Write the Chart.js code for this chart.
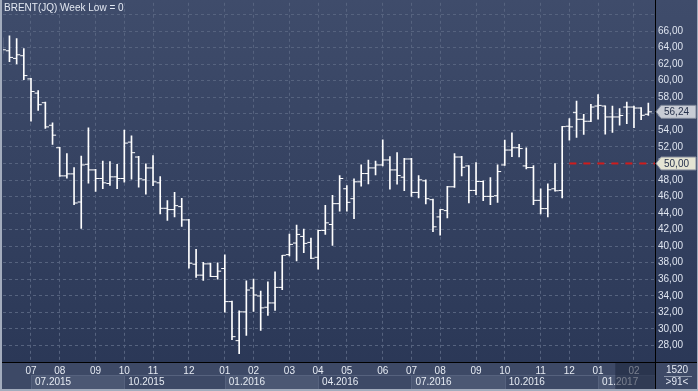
<!DOCTYPE html>
<html>
<head>
<meta charset="utf-8">
<script src="https://cdn.jsdelivr.net/npm/chart.js@4.4.0/dist/chart.umd.min.js"></script>
<style>
html, body { margin: 0; padding: 0; background: #2f3c5a; }
canvas { display: block; }
</style>
</head>
<body>
<canvas id="brent" width="698" height="391"></canvas>
<script>
// weekly bars, index 0 = last week of June 2015
const openP = [64.30, 63.62, 62.70, 63.02, 60.22, 58.50, 57.34, 54.62, 51.90, 48.50,
    48.74, 45.34, 49.90, 49.22, 48.18, 47.58, 48.38, 48.18, 52.58, 50.78,
    48.02, 49.46, 47.66, 44.58, 44.42, 44.78, 43.18, 37.82, 36.50, 37.86,
    36.34, 37.30, 33.30, 28.58, 32.06, 34.94, 33.98, 32.62, 33.14, 35.02,
    38.98, 40.38, 41.18, 40.46, 38.66, 41.90, 42.62, 45.14, 46.94, 45.74,
    47.78, 48.78, 49.46, 49.82, 50.42, 49.22, 48.34, 50.54, 46.50, 47.90,
    45.62, 43.54, 44.30, 47.18, 50.78, 49.70, 46.74, 47.82, 46.02, 46.10,
    49.82, 51.62, 51.90, 49.70, 49.50, 45.54, 44.54, 46.94, 46.74, 54.50,
    56.18, 55.34, 55.10, 56.94, 56.94, 55.62, 55.62, 56.82, 56.82, 56.70, 55.94];
const highP = [65.20, 65.42, 65.10, 63.90, 60.30, 58.82, 57.42, 54.90, 51.95, 51.18,
    49.50, 50.90, 54.30, 49.30, 50.30, 50.22, 49.90, 54.02, 53.34, 50.85,
    49.94, 50.94, 48.42, 45.50, 46.50, 45.78, 43.25, 39.62, 38.06, 37.95,
    37.98, 38.94, 33.35, 32.18, 35.82, 36.02, 34.58, 35.70, 36.90, 38.90,
    41.46, 42.54, 42.06, 40.98, 41.94, 44.94, 46.14, 48.54, 47.34, 48.14,
    49.82, 50.42, 50.30, 52.86, 50.82, 51.30, 50.62, 50.62, 48.54, 48.02,
    45.70, 44.45, 47.22, 51.18, 50.85, 49.75, 50.10, 47.90, 48.30, 49.82,
    52.82, 53.70, 52.30, 51.90, 49.74, 46.94, 47.54, 49.98, 54.50, 55.42,
    57.54, 55.94, 57.14, 58.34, 56.98, 56.94, 56.62, 57.42, 56.94, 56.75, 57.30];
const lowP = [63.30, 62.30, 62.02, 60.14, 55.10, 56.42, 54.22, 52.30, 48.42, 48.22,
    45.02, 42.14, 47.62, 46.62, 46.94, 47.34, 46.94, 47.74, 48.10, 47.14,
    46.30, 47.30, 43.90, 43.10, 43.54, 42.38, 37.34, 36.22, 35.86, 36.30,
    36.02, 32.02, 28.70, 27.02, 29.22, 32.10, 29.82, 31.62, 32.22, 34.74,
    38.82, 38.22, 39.22, 38.50, 37.22, 41.42, 40.10, 44.22, 44.22, 43.34,
    47.26, 47.54, 48.62, 49.70, 46.90, 47.50, 46.70, 46.02, 45.82, 45.10,
    41.74, 41.34, 43.42, 47.10, 48.50, 45.22, 46.22, 45.50, 45.02, 45.30,
    49.75, 50.82, 50.80, 49.34, 45.02, 43.90, 43.54, 46.65, 45.82, 52.82,
    53.14, 53.50, 55.05, 55.34, 53.54, 53.74, 54.62, 54.82, 54.34, 55.30, 55.82];
const closeP = [63.74, 62.82, 63.14, 60.62, 58.70, 57.10, 54.42, 53.42, 48.50, 48.74,
    45.22, 49.82, 49.22, 48.18, 47.66, 48.38, 48.18, 52.46, 51.30, 48.14,
    49.46, 47.78, 44.58, 44.42, 44.90, 43.18, 37.94, 36.50, 37.86, 36.34,
    36.98, 33.30, 29.06, 32.06, 34.70, 34.10, 32.54, 33.14, 35.02, 38.90,
    40.22, 41.42, 40.34, 38.54, 41.90, 42.82, 45.14, 48.18, 45.30, 47.78,
    48.78, 49.46, 49.82, 50.42, 49.22, 48.54, 50.54, 46.50, 48.02, 45.74,
    42.34, 44.42, 47.18, 50.78, 49.54, 46.74, 47.82, 46.02, 46.02, 49.02,
    51.62, 51.90, 51.80, 49.50, 45.54, 44.54, 46.82, 46.70, 54.45, 54.42,
    55.34, 55.10, 56.82, 57.02, 55.62, 55.62, 55.80, 56.82, 56.70, 55.82, 56.24];

// first bar of each month / quarter
const monthIdx = [4, 8, 13, 17, 21, 26, 31, 35, 40, 44, 48, 53, 57, 61, 66, 70, 75, 79, 83, 88];
const monthLbl = ['07', '08', '09', '10', '11', '12', '01', '02', '03', '04',
    '05', '06', '07', '08', '09', '10', '11', '12', '01', '02'];
const quarterIdx = [4, 17, 31, 44, 57, 70, 83];
const quarterLbl = ['07.2015', '10.2015', '01.2016', '04.2016', '07.2016', '10.2016', '01.2017'];

const alertLevel = 50;
const alertFrom = 79;
const xMin = 0.1, xMax = 90.93;
const yMin = 26, yMax = 69.42;
const tickShift = 0.25;

const FONT = 'Liberation Sans, Arial, sans-serif';

function fmt(v) {
    return v.toFixed(2).replace('.', ',');
}

function noPad(s) {
    s.paddingTop = 0;
    s.paddingBottom = 0;
    s.paddingLeft = 0;
    s.paddingRight = 0;
}

// тег цены справа
function priceTag(ctx, y, text, fill) {
    ctx.beginPath();
    ctx.moveTo(656, y);
    ctx.lineTo(661, y - 6.5);
    ctx.lineTo(696, y - 6.5);
    ctx.lineTo(696, y + 6.5);
    ctx.lineTo(661, y + 6.5);
    ctx.closePath();
    ctx.fillStyle = fill;
    ctx.fill();
    ctx.strokeStyle = '#7f8799';
    ctx.lineWidth = 1;
    ctx.stroke();
    ctx.fillStyle = '#27324c';
    ctx.font = '10px ' + FONT;
    ctx.textAlign = 'left';
    ctx.textBaseline = 'middle';
    ctx.fillText(text, 664, y + 0.5);
}

const frame = {
    id: 'frame',
    beforeDraw(chart) {
        const { ctx, chartArea: a, scales } = chart;
        const W = chart.width, H = chart.height;
        ctx.save();
        const g = ctx.createLinearGradient(0, 0, 0, a.bottom);
        g.addColorStop(0, '#3f4c6b');
        g.addColorStop(1, '#2b3857');
        ctx.fillStyle = g;
        ctx.fillRect(0, 0, W, a.bottom);
        ctx.fillStyle = '#3d4966';
        ctx.fillRect(0, a.bottom, W, H - a.bottom);
        // quarter boxes
        for (let q = 0; q < quarterIdx.length; q++) {
            const l = Math.round(scales.x2.getPixelForValue(quarterIdx[q])) + 0.5;
            const r = q + 1 < quarterIdx.length ? Math.round(scales.x2.getPixelForValue(quarterIdx[q + 1])) + 0.5 : a.right;
            if (q % 2 === 0) {
                ctx.fillStyle = '#4b5773';
                ctx.fillRect(l, 376, r - l, 13);
            }
            ctx.strokeStyle = '#56627e';
            ctx.strokeRect(l, 375.5, r - l, 14);
        }
        ctx.restore();
    },
    afterDraw(chart) {
        const { ctx, chartArea: a, scales } = chart;
        const W = chart.width, H = chart.height;
        ctx.save();
        // current month shade
        const sx = scales.x.getPixelForValue(85.4);
        ctx.fillStyle = 'rgba(28,36,58,0.55)';
        ctx.fillRect(sx, a.bottom + 1, a.right - sx, H - a.bottom - 3);

        ctx.strokeStyle = '#000';
        ctx.lineWidth = 1;
        ctx.beginPath();
        ctx.moveTo(0, a.bottom + 0.5);
        ctx.lineTo(W, a.bottom + 0.5);
        ctx.moveTo(a.right + 0.5, 0);
        ctx.lineTo(a.right + 0.5, H);
        ctx.stroke();

        // outer frame
        ctx.fillStyle = '#a3acbd';
        ctx.fillRect(0, 0, 2, H);
        ctx.fillRect(0, H - 2, W, 2);
        ctx.fillRect(W - 1, 0, 1, H);

        priceTag(ctx, scales.y.getPixelForValue(closeP[closeP.length - 1]), fmt(closeP[closeP.length - 1]), '#c8ccd5');
        priceTag(ctx, scales.y.getPixelForValue(alertLevel), fmt(alertLevel), '#e4e4d3');

        ctx.font = '10px ' + FONT;
        ctx.fillStyle = '#e3e8f2';
        ctx.textBaseline = 'middle';
        ctx.textAlign = 'left';
        ctx.fillText('BRENT(JQ) Week Low = 0', 4, 8);

        ctx.textAlign = 'center';
        ctx.fillText('1520', 677, 370);
        ctx.fillText('>91<', 677, 382);
        ctx.fillStyle = '#8d97ab';
        ctx.fillRect(664, 376, 28, 1);
        ctx.restore();
    }
};

const ctx = document.getElementById('brent').getContext('2d');

new Chart(ctx, {
    type: 'bar',
    data: {
        datasets: [{
            type: 'line',
            data: [{ x: alertFrom, y: alertLevel }, { x: xMax, y: alertLevel }],
            borderColor: '#d01c1c',
            borderWidth: 2,
            borderDash: [7, 7],
            pointRadius: 0,
            order: 3
        }, {
            type: 'bar',
            data: highP.map((h, i) => ({ x: i, y: [lowP[i], h] })),
            backgroundColor: '#ffffff',
            borderWidth: 0,
            barThickness: 1,
            grouped: false,
            order: 2
        }, {
            type: 'scatter',
            data: openP.map((v, i) => ({ x: i - tickShift, y: v })),
            pointStyle: 'line',
            pointRadius: 1.8,
            pointHoverRadius: 1.8,
            pointBorderColor: '#ffffff',
            pointBorderWidth: 1,
            order: 1
        }, {
            type: 'scatter',
            data: closeP.map((v, i) => ({ x: i + tickShift, y: v })),
            pointStyle: 'line',
            pointRadius: 1.8,
            pointHoverRadius: 1.8,
            pointBorderColor: '#ffffff',
            pointBorderWidth: 1,
            order: 1
        }]
    },
    options: {
        responsive: false,
        devicePixelRatio: 1,
        animation: false,
        events: [],
        layout: { padding: { left: 3, top: 0, right: 0, bottom: 2 } },
        plugins: {
            legend: { display: false },
            tooltip: { enabled: false }
        },
        scales: {
            x: {
                type: 'linear',
                position: 'bottom',
                offset: false,
                min: xMin,
                max: xMax,
                afterBuildTicks: s => { s.ticks = monthIdx.map(v => ({ value: v })); },
                afterFit: s => { s.height = 12; noPad(s); },
                grid: { color: '#56637f', drawTicks: false, offset: false },
                border: { display: false, dash: [3, 3] },
                ticks: {
                    autoSkip: false,
                    maxRotation: 0,
                    padding: 3,
                    color: '#e6ebf3',
                    font: { size: 10, family: FONT },
                    callback: (v, i) => monthLbl[i]
                }
            },
            x2: {
                type: 'linear',
                position: 'bottom',
                offset: false,
                min: xMin,
                max: xMax,
                afterBuildTicks: s => { s.ticks = quarterIdx.map(v => ({ value: v })); },
                afterFit: s => { s.height = 15; noPad(s); },
                grid: { display: false, drawTicks: false, offset: false },
                border: { display: false },
                ticks: {
                    autoSkip: false,
                    maxRotation: 0,
                    align: 'start',
                    labelOffset: 4,
                    padding: 2,
                    color: '#e6ebf3',
                    font: { size: 10, family: FONT },
                    callback: (v, i) => quarterLbl[i]
                }
            },
            y: {
                type: 'linear',
                position: 'right',
                min: yMin,
                max: yMax,
                afterFit: s => { s.width = 43; noPad(s); },
                grid: { color: '#56637f', drawTicks: false },
                border: { display: false, dash: [3, 3] },
                ticks: {
                    stepSize: 2,
                    includeBounds: false,
                    padding: 3,
                    color: '#dfe5f0',
                    font: { size: 10, family: FONT },
                    callback: v => (v < 28 || v > 66) ? '' : fmt(v)
                }
            }
        }
    },
    plugins: [frame]
});
</script>
</body>
</html>
